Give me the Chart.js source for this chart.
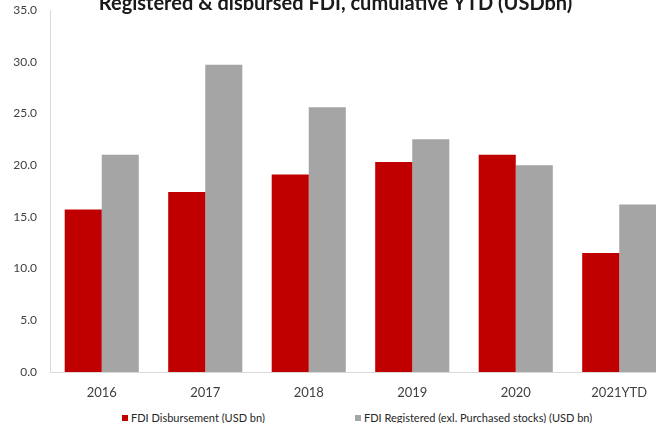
<!DOCTYPE html>
<html>
<head>
<meta charset="utf-8">
<script src="https://cdn.jsdelivr.net/npm/chart.js@4"></script>
<style>
  html, body { margin: 0; padding: 0; background: #fff; overflow: hidden; }
  #wrap { position: relative; width: 665px; height: 423px; font-family: Lato, sans-serif; }
  #clip { position: absolute; left: 0; top: 0; width: 656px; height: 400px; overflow: hidden; }
  #legend { position: absolute; left: 0; top: 411px; width: 665px; height: 14px; }
  .item { position: absolute; top: 0; font-size: 11px; line-height: 14px; color: #262626; white-space: nowrap; }
  .item i { display: inline-block; width: 6px; height: 6px; margin-right: 3px; vertical-align: 1px; }
</style>
</head>
<body>
<div id="wrap">
  <div id="clip"><canvas id="fdiChart" width="671" height="400"></canvas></div>
  <div id="legend"></div>
</div>
<script>
// data
const years = ["2016", "2017", "2018", "2019", "2020", "2021YTD"];
const disbursed = [15.7, 17.4, 19.1, 20.3, 21.0, 11.5];
const registered = [21.0, 29.7, 25.6, 22.5, 20.0, 16.2];
const seriesNames = ["FDI Disbursement (USD bn)", "FDI Registered (exl. Purchased stocks) (USD bn)"];
const seriesColors = ["#c00000", "#a5a5a5"];
const legendX = [122, 355];

const tickColor = "#404040";
const axisColor = "#d9d9d9";

const chart = new Chart(document.getElementById("fdiChart"), {
  type: "bar",
  data: {
    labels: years,
    datasets: [
      { label: seriesNames[0], data: disbursed, backgroundColor: seriesColors[0] },
      { label: seriesNames[1], data: registered, backgroundColor: seriesColors[1] }
    ]
  },
  options: {
    responsive: false,
    animation: false,
    datasets: { bar: { categoryPercentage: 0.716, barPercentage: 1 } },
    layout: { padding: 0 },
    plugins: {
      legend: { display: false },
      tooltip: { enabled: false },
      // title sits partly above the top edge, like the cropped original
      title: {
        display: true,
        text: "Registered & disbursed FDI, cumulative YTD (USDbn)",
        color: "#1a1a1a",
        font: { family: "Lato", size: 20, weight: "bold", lineHeight: 0.4 },
        padding: { top: 0, bottom: 2 }
      }
    },
    scales: {
      x: {
        grid: { display: false, drawTicks: false },
        border: { display: true, color: axisColor, width: 1 },
        ticks: { color: tickColor, padding: 13, font: { family: "Lato", size: 13 } },
        afterFit: s => { s.height = 28; }
      },
      y: {
        min: 0,
        max: 35,
        // tick marks hidden, their length only spaces the labels from the axis
        grid: { display: false, drawTicks: true, tickLength: 13 },
        border: { display: true, color: axisColor, width: 1 },
        ticks: {
          stepSize: 5,
          color: tickColor,
          padding: 0,
          font: { family: "Lato", size: 12 },
          callback: v => v.toFixed(1)
        },
        afterFit: s => { s.width = 50; }
      }
    }
  }
});

// legend built from the chart's datasets
const legend = document.getElementById("legend");
chart.data.datasets.forEach((ds, i) => {
  const el = document.createElement("div");
  el.className = "item";
  el.style.left = legendX[i] + "px";
  const box = document.createElement("i");
  box.style.background = ds.backgroundColor;
  el.appendChild(box);
  el.appendChild(document.createTextNode(ds.label));
  legend.appendChild(el);
});
</script>
</body>
</html>
